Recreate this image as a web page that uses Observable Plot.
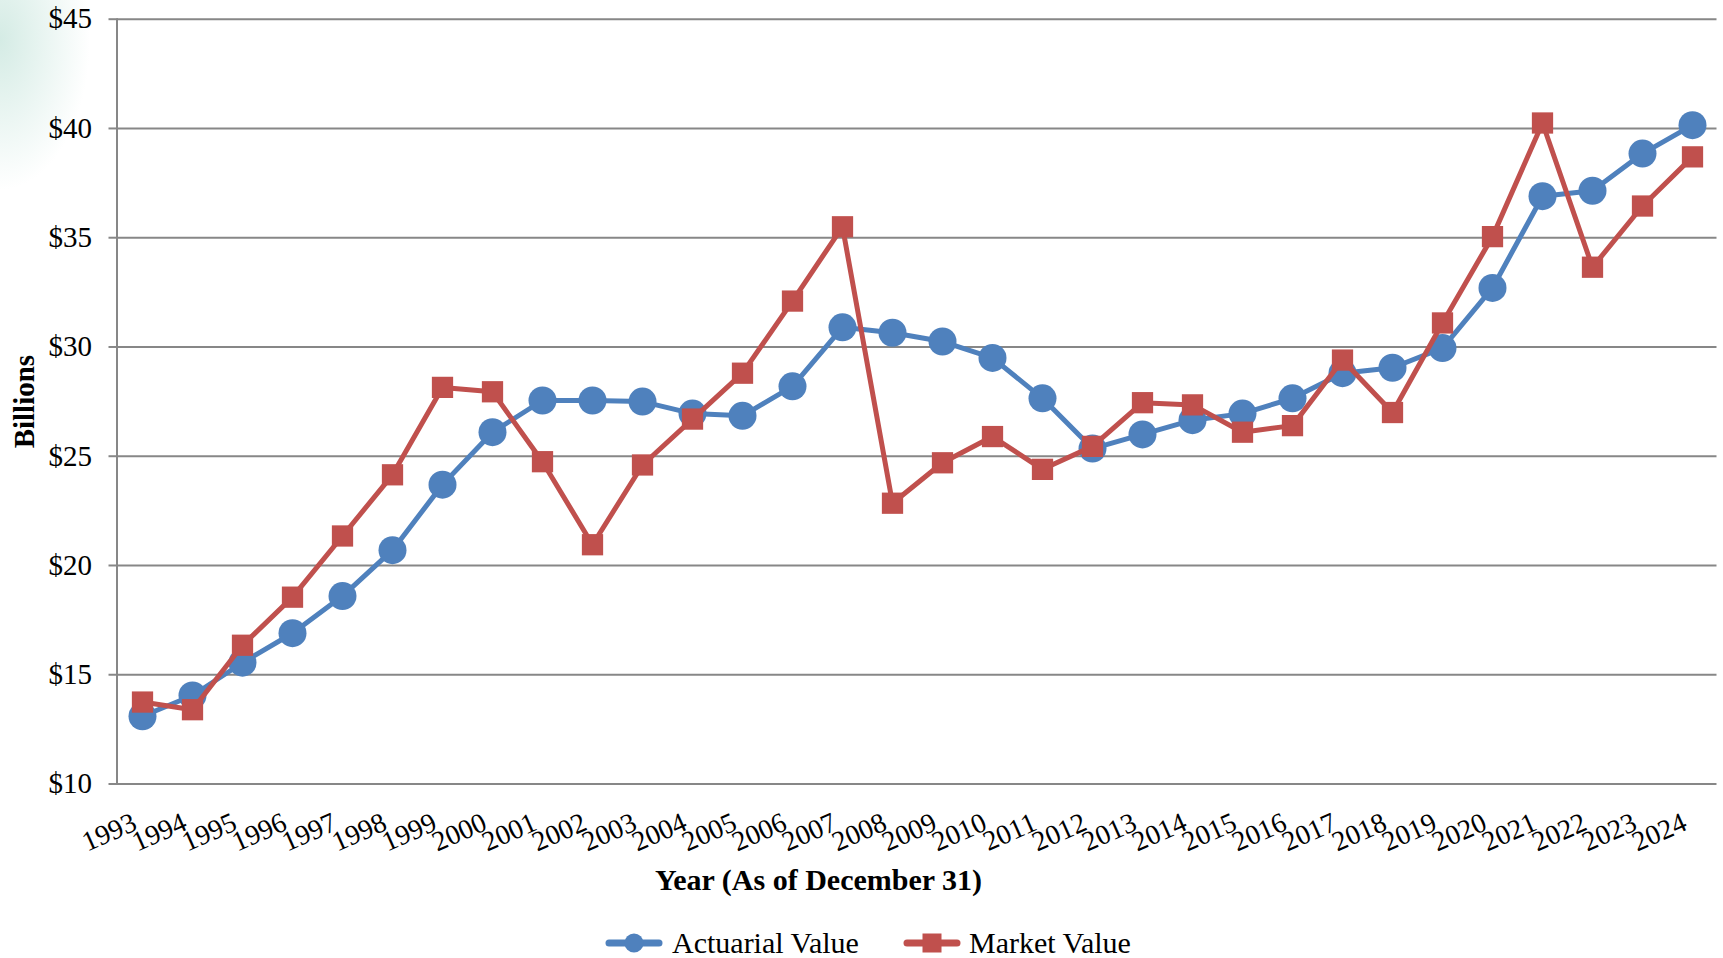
<!DOCTYPE html>
<html>
<head>
<meta charset="utf-8">
<script src="https://cdn.jsdelivr.net/npm/d3@7"></script>
<script src="https://cdn.jsdelivr.net/npm/@observablehq/plot@0.6"></script>
<style>
  html, body { margin: 0; padding: 0; overflow: hidden; }
  body {
    width: 1723px; height: 958px; position: relative;
    font-family: "Liberation Serif", "Times New Roman", serif;
    background: radial-gradient(ellipse 90px 150px at 0px 40px, rgba(205,232,224,0.85), rgba(255,255,255,0) 100%), #fff;
  }
  #chart svg { display: block; background: transparent; }
  .lg-swatch { position: absolute; top: 928px; }
  .lg-text { position: absolute; top: 924px; font-size: 30px; line-height: 38px; color: #000; white-space: nowrap; }
</style>
</head>
<body>
<div id="chart"></div>
<div id="legend"></div>
<script>
const years = ["1993","1994","1995","1996","1997","1998","1999","2000","2001","2002","2003","2004","2005","2006","2007","2008","2009","2010","2011","2012","2013","2014","2015","2016","2017","2018","2019","2020","2021","2022","2023","2024"];
const actuarialValue = [13.1, 14.05, 15.55, 16.9, 18.6, 20.7, 23.7, 26.1, 27.55, 27.55, 27.5, 26.95, 26.85, 28.2, 30.9, 30.65, 30.25, 29.5, 27.65, 25.35, 26.0, 26.65, 26.95, 27.65, 28.8, 29.05, 29.95, 32.7, 36.9, 37.15, 38.85, 40.15];
const marketValue = [13.75, 13.4, 16.35, 18.55, 21.35, 24.15, 28.15, 27.95, 24.75, 20.95, 24.6, 26.7, 28.8, 32.1, 35.5, 22.85, 24.7, 25.9, 24.4, 25.45, 27.45, 27.35, 26.1, 26.4, 29.4, 27.0, 31.1, 35.05, 40.25, 33.65, 36.45, 38.7];
const yTicks = [10, 15, 20, 25, 30, 35, 40, 45];
const seriesNames = ["Actuarial Value", "Market Value"];
const xTitle = "Year (As of December 31)";
const yTitle = "Billions";

const blue = "#4F81BD", red = "#C0504D", grid = "#878787";

const actData = years.map((y, i) => ({year: y, value: actuarialValue[i]}));
const mktData = years.map((y, i) => ({year: y, value: marketValue[i]}));

const font = "Liberation Serif";

const chart = Plot.plot({
  width: 1723,
  height: 915,
  marginLeft: 116.5,
  marginRight: 6.5,
  marginTop: 18.7,
  marginBottom: 131.5,
  style: {fontFamily: font, background: "transparent", overflow: "visible"},
  x: {type: "point", domain: years, padding: 0.5, axis: null},
  y: {domain: [10, 45], axis: null},
  marks: [
    Plot.ruleY(yTicks, {stroke: grid, strokeWidth: 2}),
    Plot.axisY({ticks: yTicks, tickSize: 8, tickPadding: 17, tickFormat: d => "$" + d, stroke: grid, strokeWidth: 2, fill: "#000", fontSize: 29, label: null}),
    Plot.frame({anchor: "left", stroke: grid, strokeWidth: 2}),
    Plot.text(years, {x: d => d, frameAnchor: "bottom", rotate: -24, textAnchor: "end", lineAnchor: "bottom", dx: -4, dy: 45, fontSize: 28, fill: "#000"}),
    Plot.text([xTitle], {frameAnchor: "bottom-left", dx: 701.5, dy: 96.5, textAnchor: "middle", lineAnchor: "middle", fontSize: 30, fontWeight: "bold", fill: "#000"}),
    Plot.text([yTitle], {frameAnchor: "left", rotate: -90, dx: -92.5, textAnchor: "middle", lineAnchor: "middle", fontSize: 29, fontWeight: "bold", fill: "#000"}),
    Plot.line(actData, {x: "year", y: "value", stroke: blue, strokeWidth: 5, strokeLinejoin: "round"}),
    Plot.dot(actData, {x: "year", y: "value", r: 14, fill: blue, stroke: "none"}),
    Plot.line(mktData, {x: "year", y: "value", stroke: red, strokeWidth: 5, strokeLinejoin: "miter"}),
    Plot.dot(mktData, {x: "year", y: "value", symbol: "square", r: 12, fill: red, stroke: "none"})
  ]
});
document.getElementById("chart").appendChild(chart);

// Legend
const legend = document.getElementById("legend");
const items = [
  {name: seriesNames[0], color: blue, shape: "circle", swLeft: 605, txLeft: 672},
  {name: seriesNames[1], color: red, shape: "square", swLeft: 903, txLeft: 969}
];
for (const it of items) {
  const sw = document.createElementNS("http://www.w3.org/2000/svg", "svg");
  sw.setAttribute("class", "lg-swatch");
  sw.setAttribute("width", 58);
  sw.setAttribute("height", 30);
  sw.style.left = it.swLeft + "px";
  const ln = document.createElementNS("http://www.w3.org/2000/svg", "line");
  ln.setAttribute("x1", 4); ln.setAttribute("x2", 54); ln.setAttribute("y1", 15); ln.setAttribute("y2", 15);
  ln.setAttribute("stroke", it.color); ln.setAttribute("stroke-width", 7); ln.setAttribute("stroke-linecap", "round");
  sw.appendChild(ln);
  if (it.shape === "circle") {
    const c = document.createElementNS("http://www.w3.org/2000/svg", "circle");
    c.setAttribute("cx", 29); c.setAttribute("cy", 15); c.setAttribute("r", 9.5); c.setAttribute("fill", it.color);
    sw.appendChild(c);
  } else {
    const r = document.createElementNS("http://www.w3.org/2000/svg", "rect");
    r.setAttribute("x", 19.5); r.setAttribute("y", 5.5); r.setAttribute("width", 19); r.setAttribute("height", 19); r.setAttribute("fill", it.color);
    sw.appendChild(r);
  }
  legend.appendChild(sw);
  const t = document.createElement("div");
  t.className = "lg-text";
  t.style.left = it.txLeft + "px";
  t.textContent = it.name;
  legend.appendChild(t);
}
</script>
</body>
</html>
